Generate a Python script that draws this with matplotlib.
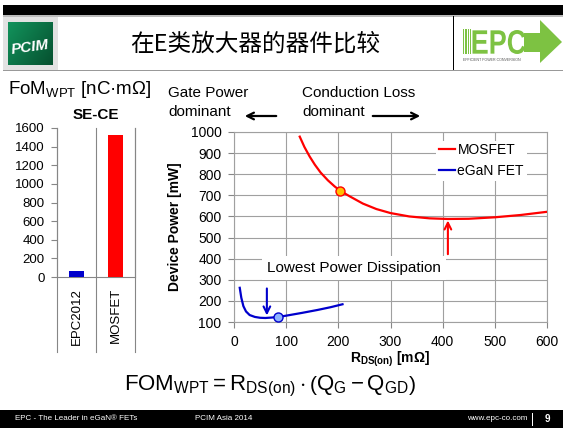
import matplotlib
matplotlib.use('Agg')
import matplotlib.pyplot as plt
from matplotlib.patches import Rectangle, Polygon, PathPatch, FancyArrowPatch
from matplotlib.textpath import TextPath
from matplotlib.font_manager import FontProperties
from matplotlib.transforms import Affine2D, blended_transform_factory
import numpy as np

plt.rcParams['font.family'] = ['Liberation Sans', 'DejaVu Sans']
plt.rcParams['mathtext.fontset'] = 'custom'
plt.rcParams['mathtext.rm'] = 'Liberation Sans'
plt.rcParams['mathtext.it'] = 'Liberation Sans:italic'
plt.rcParams['mathtext.bf'] = 'Liberation Sans:bold'

# ---------------- data ----------------
title_text = '在E类放大器的器件比较'
bar_categories = ['EPC2012', 'MOSFET']
bar_values = [60, 1530]
bar_colors = ['#0000CC', '#FF0000']
bar_yticks = [0, 200, 400, 600, 800, 1000, 1200, 1400, 1600]

mosfet_r = [126, 135, 145, 155, 166, 180, 193, 204, 222, 247, 273, 300, 336, 375, 410, 450, 500, 550, 600]
mosfet_p = [978, 929, 884, 845, 808, 771, 742, 721, 695, 661, 635, 616, 600, 591, 588, 589, 596, 607, 622]
egan_r = [11, 14, 18, 23, 30, 40, 50, 60, 72, 85, 100, 130, 160, 185, 208]
egan_p = [262, 215, 175, 150, 133, 124, 120, 119, 121, 124, 130, 143, 157, 170, 184]
mosfet_mark = (204, 721)
egan_mark = (85, 124)
x_ticks = [0, 100, 200, 300, 400, 500, 600]
y_ticks = [100, 200, 300, 400, 500, 600, 700, 800, 900, 1000]

W, H = 563, 428
fig = plt.figure(figsize=(W / 100, H / 100), dpi=100)
fig.patch.set_facecolor('white')


def fx(px):
    return px / W


def fy(py):
    return 1 - py / H


def frect(x0, y0, x1, y1, **kw):
    fig.patches.append(Rectangle((fx(x0), fy(y1)), fx(x1) - fx(x0), fy(y0) - fy(y1),
                                 transform=fig.transFigure, **kw))


# ---------------- header ----------------
frect(3, 5, 563, 15, color='black', lw=0)
frect(3, 15, 563, 16.5, color='#BBBBBB', lw=0)
frect(3, 69.5, 563, 71, color='#999999', lw=0)
frect(452.5, 16, 453.5, 70, color='black', lw=0)
# PCIM logo
frect(3, 17, 58, 70, color='#E2E2E2', lw=0)
logo_ax = fig.add_axes([fx(8), fy(65), fx(53) - fx(8), fy(22) - fy(65)])
logo_ax.set_zorder(5)
grad = np.linspace(0, 1, 64)
gx, gy = np.meshgrid(grad, grad)
logo_ax.imshow(gx * 0.6 + gy * 0.4, cmap=matplotlib.colors.LinearSegmentedColormap.from_list(
    'g', ['#12935C', '#06502F']), aspect='auto', origin='upper')
logo_ax.axis('off')
logo_ax.text(0.5, 0.42, 'PCIM', color='white', fontsize=11, fontweight='bold',
             style='italic', ha='center', va='center', rotation=8, transform=logo_ax.transAxes)

fig.text(fx(255), fy(44), title_text, fontsize=17, ha='center', va='center',
         family=['Noto Sans CJK SC', 'DejaVu Sans'])

# EPC logo
green = '#7DC242'
for i in range(4):
    frect(463 + i * 2.3, 29, 464.3 + i * 2.3, 54, color=green, lw=0)
tp = TextPath((0, 0), 'EPC', size=30, prop=FontProperties(family='Liberation Sans', weight='bold'))
ext = tp.get_extents()
sx = 53 / ext.width
sy = 24 / ext.height
tr = Affine2D().translate(-ext.x0, -ext.y0).scale(sx, sy).translate(472.5, H - 54)
pp = PathPatch(tr.transform_path(tp), color=green, lw=0, transform=None)
fig.patches.append(pp)
fig.patches.append(Polygon([[fx(524), fy(33)], [fx(540), fy(33)], [fx(540), fy(20)], [fx(562), fy(42)],
                            [fx(540), fy(63)], [fx(540), fy(52)], [fx(524), fy(52)]],
                           closed=True, transform=fig.transFigure, color=green, lw=0))
fig.text(fx(463), fy(60), 'EFFICIENT POWER CONVERSION', fontsize=2.6, color='#555555',
         ha='left', va='center')

# ---------------- footer ----------------
frect(0, 410, 563, 428, color='black', lw=0)
fig.text(fx(15), fy(419), 'EPC - The Leader in eGaN® FETs', color='white', fontsize=5.8,
         ha='left', va='center')
fig.text(fx(195), fy(419), 'PCIM Asia 2014', color='white', fontsize=5.8, ha='left', va='center')
fig.text(fx(527), fy(419), 'www.epc-co.com', color='white', fontsize=5.8, ha='right', va='center')
frect(532, 413, 533, 426, color='white', lw=0)
fig.text(fx(547), fy(419), '9', color='white', fontsize=7, fontweight='bold', ha='center', va='center')

# formula
fig.text(fx(270), fy(386),
         r'$\mathrm{FOM}_{\mathrm{WPT}} = \mathrm{R}_{\mathrm{DS(on)}} \cdot \left(\mathrm{Q}_{\mathrm{G}} - \mathrm{Q}_{\mathrm{GD}}\right)$',
         fontsize=16, ha='center', va='center')

# ---------------- left bar chart ----------------
axL = fig.add_axes([fx(57), fy(277), fx(135) - fx(57), fy(128) - fy(277)])
xpos = np.arange(len(bar_categories))
axL.bar(xpos, bar_values, width=0.41, color=bar_colors, zorder=3)
axL.set_xlim(-0.5, 1.5)
axL.set_ylim(0, 1600)
axL.set_yticks(bar_yticks)
axL.tick_params(axis='y', labelsize=9.5, length=4, width=0.8, color='#868686', pad=5)
axL.set_xticks(xpos)
axL.set_xticklabels(bar_categories, rotation=90, fontsize=9.5, va='top')
axL.tick_params(axis='x', length=0, pad=8)
axL.spines['top'].set_visible(False)
for s in ['left', 'right', 'bottom']:
    axL.spines[s].set_color('#868686')
    axL.spines[s].set_linewidth(0.8)
btr = blended_transform_factory(axL.transData, axL.transAxes)
for xb in [-0.5, 0.5, 1.5]:
    axL.plot([xb, xb], [-0.505, 1.0], transform=btr, color='#868686', lw=0.8, clip_on=False)
fig.text(fx(8), fy(90), r'FoM$_{\mathrm{WPT}}$ [nC·mΩ]', fontsize=13.5, ha='left', va='center')
fig.text(fx(96), fy(115), 'SE-CE', fontsize=11, fontweight='bold', ha='center', va='center')

# ---------------- right line chart ----------------
axR = fig.add_axes([fx(234), fy(322), fx(547) - fx(234), fy(132) - fy(322)])
axR.set_xlim(0, 600)
axR.set_ylim(100, 1000)
axR.set_xticks(x_ticks)
axR.set_yticks(y_ticks)
axR.grid(True, color='#A0A0A0', lw=0.8, zorder=0)
axR.tick_params(labelsize=10, length=4, width=0.8, color='#868686', pad=5)
for s in axR.spines.values():
    s.set_color('#A0A0A0')
    s.set_linewidth(0.8)
axR.plot(mosfet_r, mosfet_p, color='#FF0000', lw=1.6, label='MOSFET', zorder=3)
axR.plot(egan_r, egan_p, color='#0000CC', lw=1.6, label='eGaN FET', zorder=3)
axR.plot(*mosfet_mark, 'o', ms=6.5, mfc='#FFC000', mec='#FF0000', mew=1.0, zorder=4)
axR.plot(*egan_mark, 'o', ms=6.5, mfc='#8FB4FF', mec='#0000CC', mew=1.0, zorder=4)
leg = axR.legend(loc='upper left', bbox_to_anchor=(0.645, 0.955), fontsize=10, frameon=True,
                 handlelength=1.2, handletextpad=0.15, labelspacing=0.5, borderpad=0.2,
                 borderaxespad=0)
leg.get_frame().set_facecolor('white')
leg.get_frame().set_edgecolor('none')
leg.get_frame().set_alpha(1)
axR.text(230, 356, 'Lowest Power Dissipation', fontsize=11, ha='center', va='center', zorder=5,
         bbox=dict(boxstyle='square,pad=0.35', fc='white', ec='none'))
axR.annotate('', xy=(63, 118), xytext=(63, 272),
             arrowprops=dict(arrowstyle='->', color='#0000CC', lw=1.5, mutation_scale=12), zorder=5)
axR.annotate('', xy=(410, 594), xytext=(410, 408),
             arrowprops=dict(arrowstyle='->', color='#FF0000', lw=1.5, mutation_scale=12), zorder=5)
axR.set_ylabel('Device Power [mW]', fontsize=10, fontweight='bold')
axR.yaxis.set_label_coords((182 - 234) / 313, 0.5)
axR.set_xlabel(r'$\mathbf{R_{DS(on)}}$ [mΩ]', fontsize=10, fontweight='bold')
axR.xaxis.set_label_coords(0.5, (322 - 350) / 190)

fig.text(fx(168), fy(93), 'Gate Power', fontsize=11, ha='left', va='center')
fig.text(fx(168), fy(112), 'dominant', fontsize=11, ha='left', va='center')
fig.text(fx(302), fy(93), 'Conduction Loss', fontsize=11, ha='left', va='center')
fig.text(fx(302), fy(112), 'dominant', fontsize=11, ha='left', va='center')
fig.patches.append(FancyArrowPatch((fx(279), fy(116)), (fx(242), fy(116)),
                   transform=fig.transFigure, arrowstyle='->', mutation_scale=12, lw=1.6, color='black'))
fig.patches.append(FancyArrowPatch((fx(370), fy(116)), (fx(423), fy(116)),
                   transform=fig.transFigure, arrowstyle='->', mutation_scale=12, lw=1.6, color='black'))

fig.savefig('out.png', dpi=100, facecolor='white')
